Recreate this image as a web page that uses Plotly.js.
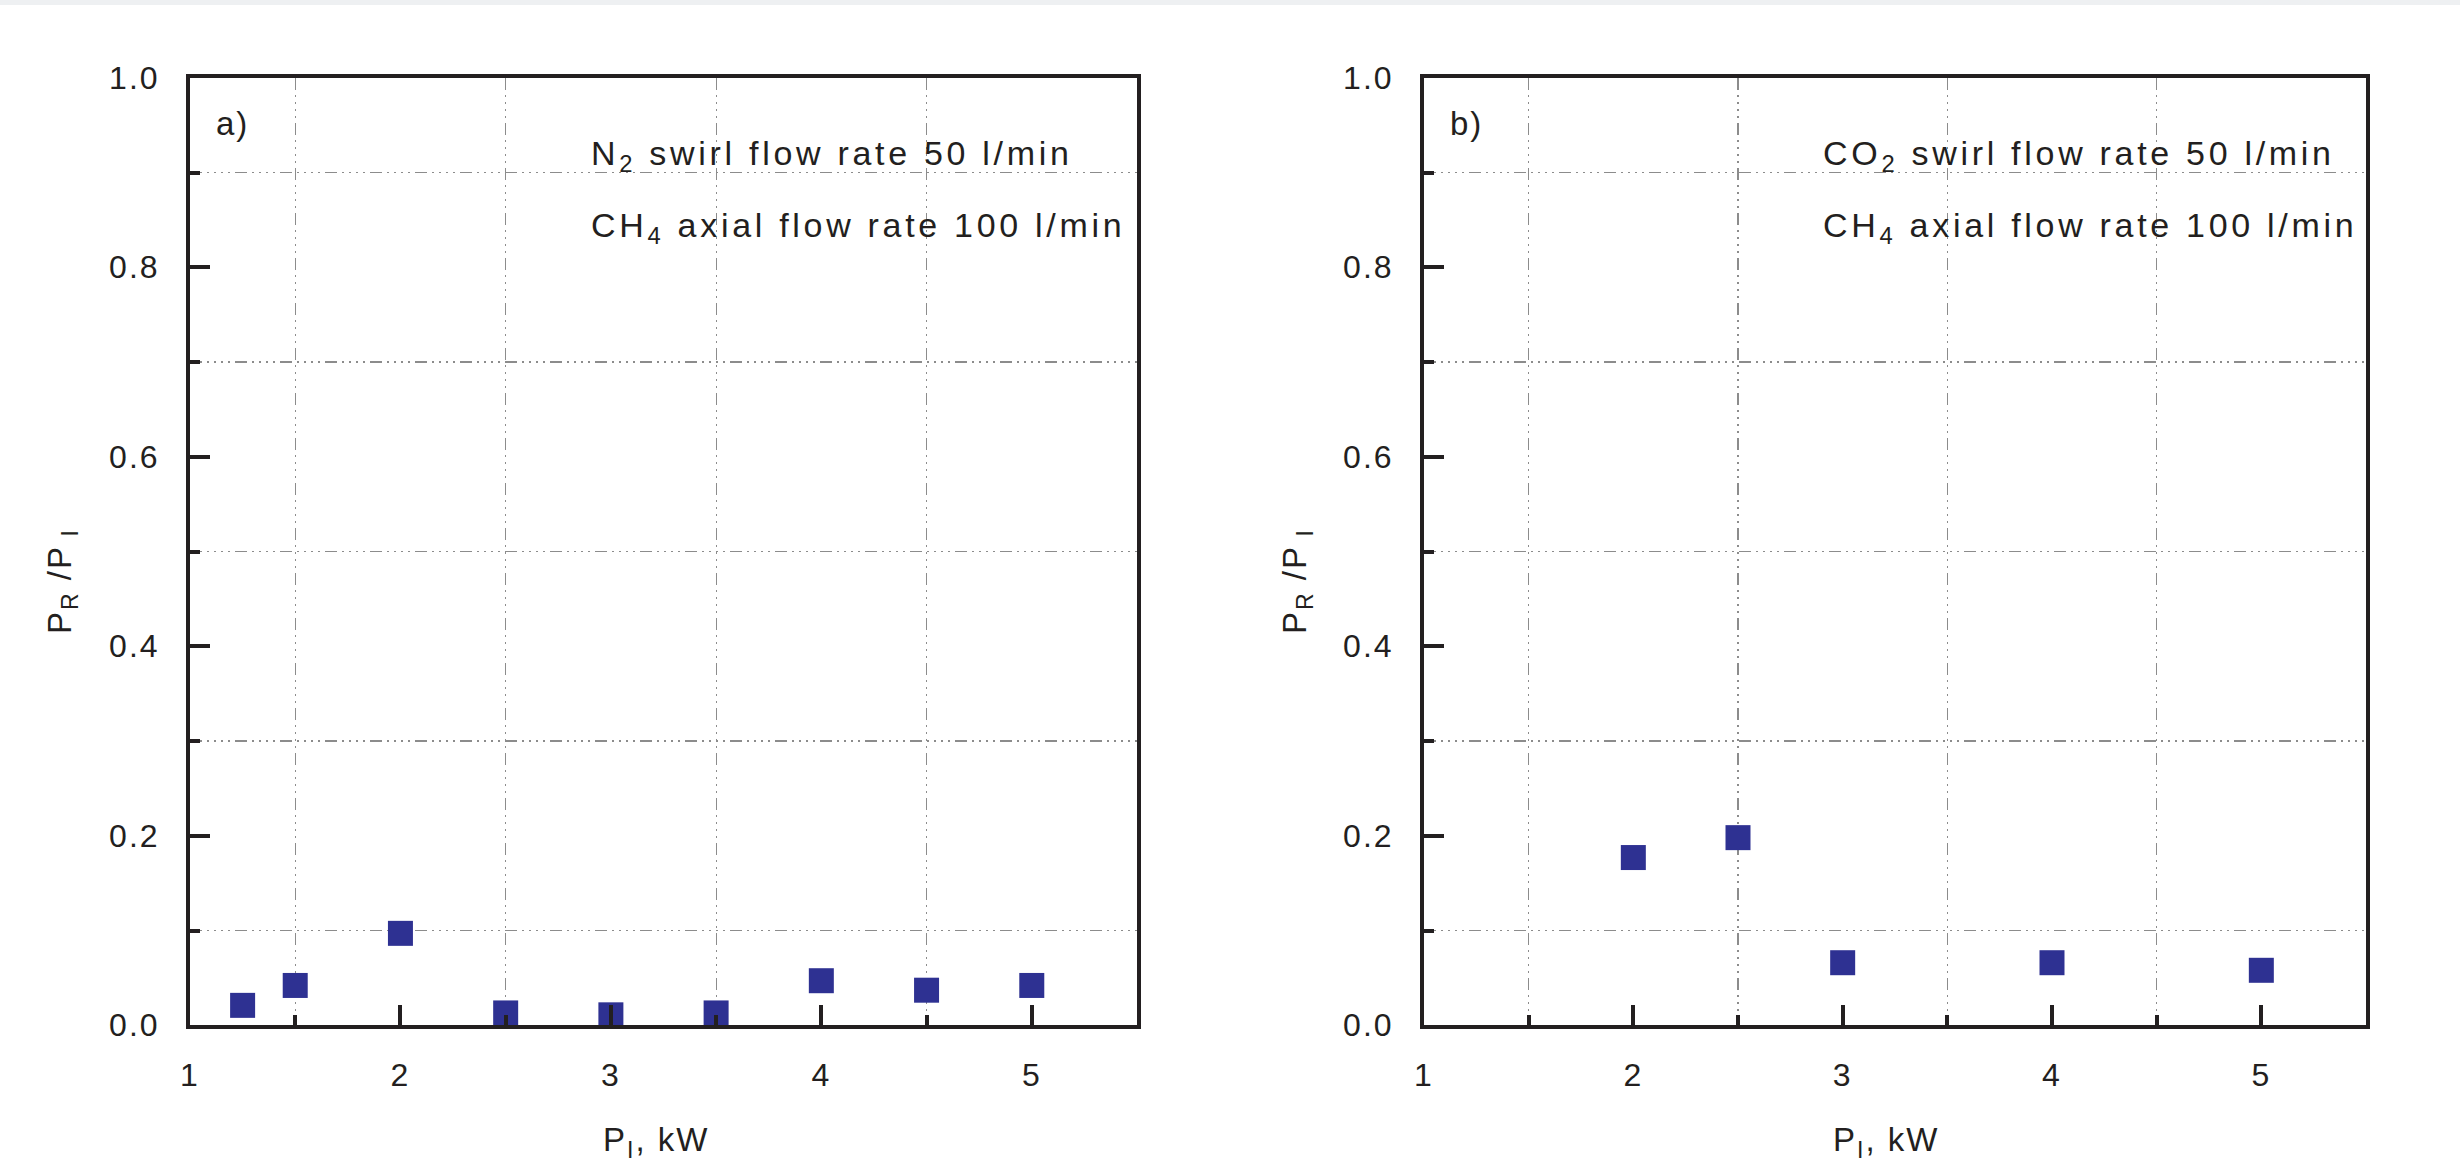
<!DOCTYPE html>
<html>
<head>
<meta charset="utf-8">
<script src="https://cdn.plot.ly/plotly-3.0.1.min.js"></script>
<style>
  html, body { margin: 0; padding: 0; background: #ffffff; }
  #chart { width: 2460px; height: 1164px; }
  #chart svg .xtick text, #chart svg .ytick text, #chart svg .x2tick text, #chart svg .y2tick text { letter-spacing: 2px; }
  #chart svg .annotation-text { letter-spacing: 2px; }
  /* flow-rate notes (annotation indices 1, 2, 6, 7) are more widely spaced in the original */
  #chart svg g.annotation[data-index="1"] .annotation-text,
  #chart svg g.annotation[data-index="2"] .annotation-text,
  #chart svg g.annotation[data-index="6"] .annotation-text,
  #chart svg g.annotation[data-index="7"] .annotation-text { letter-spacing: 3.7px; }
</style>
</head>
<body>
<div id="chart"></div>
<script>
// ---- data ----
const powerA = [1.25, 1.5, 2.0, 2.5, 3.0, 3.5, 4.0, 4.5, 5.0];          // P_I, kW (panel a)
const ratioA = [0.021, 0.042, 0.097, 0.013, 0.011, 0.013, 0.047, 0.037, 0.042]; // P_R/P_I (panel a)
const powerB = [2.0, 2.5, 3.0, 4.0, 5.0];                                // P_I, kW (panel b)
const ratioB = [0.177, 0.198, 0.066, 0.066, 0.058];                       // P_R/P_I (panel b)

const xTickVals = [1, 2, 3, 4, 5];
const xTickText = ['1', '2', '3', '4', '5'];
const xMinorVals = [1.5, 2.5, 3.5, 4.5];
const yTickVals = [0, 0.2, 0.4, 0.6, 0.8, 1.0];
const yTickText = ['0.0', '0.2', '0.4', '0.6', '0.8', '1.0'];
const yMinorVals = [0.1, 0.3, 0.5, 0.7, 0.9];

const panelLabels = ['a)', 'b)'];
const noteLine1 = ['N<sub>2</sub> swirl flow rate 50 l/min', 'CO<sub>2</sub> swirl flow rate 50 l/min'];
const noteLine2 = ['CH<sub>4</sub> axial flow rate 100 l/min', 'CH<sub>4</sub> axial flow rate 100 l/min'];
const yTitle = 'P<sub>R</sub> /P<sub> I</sub>';
const xTitle = 'P<sub>I</sub>, kW';

// ---- styling ----
const W = 2460, H = 1164;
const ink = '#231f20';
const markerColor = '#2e3192';
const gridColor = '#8c8c8c';
const fontFam = '"Liberation Sans", Arial, sans-serif';
const tickFont = { family: fontFam, size: 32, color: ink };
const gridDash = '12px,5px,2px,5px,2px,5px,2px,5px,2px,5px';

function xAxis(domain) {
  return {
    domain: domain, range: [1, 5.5], autorange: false,
    tickmode: 'array', tickvals: xTickVals, ticktext: xTickText,
    ticks: 'inside', ticklen: 20, tickwidth: 4, tickcolor: ink,
    showline: true, linewidth: 4, linecolor: ink, mirror: true,
    showgrid: false, zeroline: false,
    tickfont: tickFont, ticklabelstandoff: 18,
    minor: { tickmode: 'array', tickvals: xMinorVals, ticks: 'inside', ticklen: 10, tickwidth: 4, tickcolor: ink,
             showgrid: true, gridcolor: gridColor, gridwidth: 1.2, griddash: gridDash },
    automargin: false, fixedrange: true
  };
}
function yAxis(anchor) {
  return {
    anchor: anchor, domain: [0.1192, 0.9332], range: [0, 1], autorange: false,
    tickmode: 'array', tickvals: yTickVals, ticktext: yTickText,
    ticks: 'inside', ticklen: 20, tickwidth: 4, tickcolor: ink,
    showline: true, linewidth: 4, linecolor: ink, mirror: true,
    showgrid: false, zeroline: false,
    tickfont: tickFont, ticklabelstandoff: 20,
    minor: { tickmode: 'array', tickvals: yMinorVals, ticks: 'inside', ticklen: 10, tickwidth: 4, tickcolor: ink,
             showgrid: true, gridcolor: gridColor, gridwidth: 1.2, griddash: gridDash },
    automargin: false, fixedrange: true
  };
}

const marker = { symbol: 'square', size: 25, color: markerColor, line: { width: 0 } };

const traces = [
  { x: powerA, y: ratioA, xaxis: 'x', yaxis: 'y', type: 'scatter', mode: 'markers', marker: marker, cliponaxis: false, hoverinfo: 'x+y' },
  { x: powerB, y: ratioB, xaxis: 'x2', yaxis: 'y2', type: 'scatter', mode: 'markers', marker: marker, cliponaxis: false, hoverinfo: 'x+y' }
];

const textFont = { family: fontFam, size: 33, color: ink };
const noteFont = { family: fontFam, size: 34, color: ink };
const annotations = [];
const axPairs = [['x', 'y'], ['x2', 'y2']];
const titleX = [62 / W, 1297 / W];
const xTitleX = [656 / W, 1886 / W];
axPairs.forEach(function (p, i) {
  annotations.push({ xref: p[0] + ' domain', yref: p[1] + ' domain', x: 0.025, y: 0.952,
    xanchor: 'left', yanchor: 'middle', align: 'left', text: panelLabels[i], showarrow: false, font: textFont });
  annotations.push({ xref: p[0] + ' domain', yref: p[1] + ' domain', x: 0.421, y: 0.918,
    xanchor: 'left', yanchor: 'middle', align: 'left', text: noteLine1[i], showarrow: false, font: noteFont });
  annotations.push({ xref: p[0] + ' domain', yref: p[1] + ' domain', x: 0.421, y: 0.842,
    xanchor: 'left', yanchor: 'middle', align: 'left', text: noteLine2[i], showarrow: false, font: noteFont });
  annotations.push({ xref: 'paper', yref: 'paper', x: titleX[i], y: 1 - 581 / H,
    xanchor: 'center', yanchor: 'middle', textangle: -90, text: yTitle, showarrow: false, font: textFont });
  annotations.push({ xref: 'paper', yref: 'paper', x: xTitleX[i], y: 1 - 1142 / H,
    xanchor: 'center', yanchor: 'middle', text: xTitle, showarrow: false, font: textFont });
});

const layout = {
  width: W, height: H,
  margin: { l: 0, r: 0, t: 0, b: 0, pad: 0 },
  paper_bgcolor: '#ffffff', plot_bgcolor: '#ffffff',
  showlegend: false,
  xaxis: xAxis([190 / W, 1137 / W]),
  yaxis: yAxis('x'),
  xaxis2: xAxis([1424 / W, 2366 / W]),
  yaxis2: yAxis('x2'),
  annotations: annotations,
  shapes: [
    { type: 'rect', xref: 'paper', yref: 'paper', x0: 0, x1: 1, y0: 1 - 5 / H, y1: 1,
      fillcolor: '#eef0f2', line: { width: 0 }, layer: 'below' }
  ]
};

Plotly.newPlot('chart', traces, layout, { displayModeBar: false, staticPlot: true });
</script>
</body>
</html>
